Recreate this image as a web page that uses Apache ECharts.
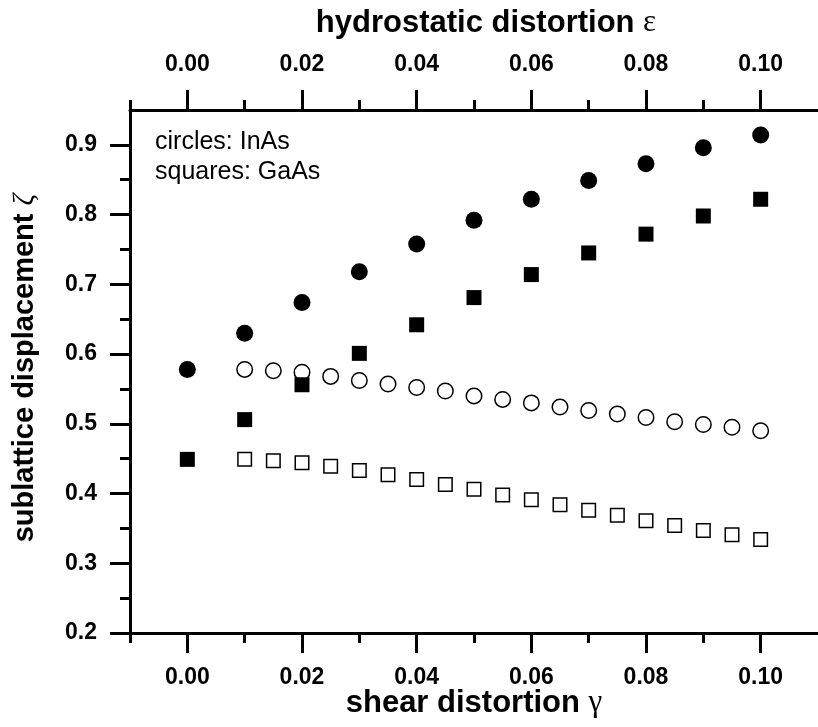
<!DOCTYPE html>
<html>
<head>
<meta charset="utf-8">
<script src="https://cdn.jsdelivr.net/npm/echarts@6/dist/echarts.min.js"></script>
<style>
  html, body { margin: 0; padding: 0; background: #fff; }
  #chart { width: 818px; height: 727px; }
</style>
</head>
<body>
<div id="chart"></div>
<script>
// Hydrostatic distortion (top axis) and the filled symbols
const epsValues = [0.00, 0.01, 0.02, 0.03, 0.04, 0.05, 0.06, 0.07, 0.08, 0.09, 0.10];
const inasHydro = [0.578, 0.630, 0.674, 0.718, 0.758, 0.792, 0.822, 0.849, 0.873, 0.896, 0.914];
const gaasHydro = [0.449, 0.506, 0.556, 0.601, 0.642, 0.681, 0.714, 0.745, 0.772, 0.798, 0.822];

// Shear distortion (bottom axis) and the open symbols
const gammaValues = [0.010, 0.015, 0.020, 0.025, 0.030, 0.035, 0.040, 0.045, 0.050, 0.055,
                     0.060, 0.065, 0.070, 0.075, 0.080, 0.085, 0.090, 0.095, 0.100];
const inasShear = [0.578, 0.576, 0.574, 0.568, 0.562, 0.557, 0.552, 0.547, 0.540, 0.535,
                   0.530, 0.524, 0.519, 0.514, 0.509, 0.503, 0.499, 0.495, 0.490];
const gaasShear = [0.449, 0.447, 0.444, 0.439, 0.433, 0.427, 0.420, 0.413, 0.406, 0.398,
                   0.391, 0.384, 0.376, 0.369, 0.361, 0.354, 0.347, 0.341, 0.334];

// Tick positions
const xMajorTicks = [0.00, 0.02, 0.04, 0.06, 0.08, 0.10];
const xMinorTicks = [-0.01, 0.01, 0.03, 0.05, 0.07, 0.09];
const yMajorTicks = [0.2, 0.3, 0.4, 0.5, 0.6, 0.7, 0.8, 0.9];
const yMinorTicks = [0.25, 0.35, 0.45, 0.55, 0.65, 0.75, 0.85];

const pairs = (xs, ys) => xs.map((x, i) => [x, ys[i]]);

const FONT = "'Liberation Sans', Arial, sans-serif";
const GREEK = "'Liberation Serif', 'DejaVu Serif', serif";
const X_MIN = -0.01, X_MAX = 0.11, Y_MIN = 0.2, Y_MAX = 0.95;

function xAxisDef(position, major) {
  return {
    type: 'value', position: position, min: X_MIN, max: X_MAX,
    axisLine: { show: major, onZero: false, lineStyle: { color: '#000', width: 3 } },
    axisTick: {
      show: true, inside: false, length: major ? 20 : 10,
      customValues: major ? xMajorTicks : xMinorTicks,
      lineStyle: { color: '#000', width: 3 }
    },
    axisLabel: {
      show: major, customValues: xMajorTicks, margin: position === 'top' ? 34 : 33,
      formatter: v => v.toFixed(2),
      color: '#000', fontFamily: FONT, fontWeight: 'bold', fontSize: 23
    },
    splitLine: { show: false }
  };
}

function yAxisDef(major) {
  return {
    type: 'value', position: 'left', min: Y_MIN, max: Y_MAX,
    axisLine: { show: major, onZero: false, lineStyle: { color: '#000', width: 3 } },
    axisTick: {
      show: true, inside: false, length: major ? 20 : 10,
      customValues: major ? yMajorTicks : yMinorTicks,
      lineStyle: { color: '#000', width: 3 }
    },
    axisLabel: {
      show: major, customValues: yMajorTicks, margin: 33,
      formatter: v => v.toFixed(1),
      color: '#000', fontFamily: FONT, fontWeight: 'bold', fontSize: 23
    },
    splitLine: { show: false }
  };
}

const titleRich = (size, greekItalic) => ({
  t: { fontFamily: FONT, fontWeight: 'bold', fontSize: size, fill: '#000' },
  g: { fontFamily: GREEK, fontWeight: 'normal', fontStyle: greekItalic ? 'italic' : 'normal',
       fontSize: size, fill: '#000' }
});

const chart = echarts.init(document.getElementById('chart'), null, { renderer: 'canvas' });

chart.setOption({
  animation: false,
  backgroundColor: '#fff',
  grid: { left: 130, top: 110, width: 694, height: 523, containLabel: false },
  xAxis: [
    xAxisDef('bottom', true),
    xAxisDef('bottom', false),
    xAxisDef('top', true),
    xAxisDef('top', false)
  ],
  yAxis: [yAxisDef(true), yAxisDef(false)],
  series: [
    {
      name: 'InAs shear', type: 'scatter', xAxisIndex: 0, yAxisIndex: 0,
      data: pairs(gammaValues, inasShear),
      symbol: 'circle', symbolSize: 15.5,
      itemStyle: { color: '#fff', borderColor: '#000', borderWidth: 1.5, opacity: 1 }
    },
    {
      name: 'GaAs shear', type: 'scatter', xAxisIndex: 0, yAxisIndex: 0,
      data: pairs(gammaValues, gaasShear),
      symbol: 'rect', symbolSize: 13.5,
      itemStyle: { color: '#fff', borderColor: '#000', borderWidth: 1.5, opacity: 1 }
    },
    {
      name: 'InAs hydrostatic', type: 'scatter', xAxisIndex: 2, yAxisIndex: 0,
      data: pairs(epsValues, inasHydro),
      symbol: 'circle', symbolSize: 17,
      itemStyle: { color: '#000', opacity: 1 }
    },
    {
      name: 'GaAs hydrostatic', type: 'scatter', xAxisIndex: 2, yAxisIndex: 0,
      data: pairs(epsValues, gaasHydro),
      symbol: 'rect', symbolSize: 15,
      itemStyle: { color: '#000', opacity: 1 }
    }
  ],
  graphic: [
    {
      type: 'text', left: 155, top: 127,
      style: {
        text: 'circles: InAs\nsquares: GaAs',
        font: "25px 'Liberation Sans', Arial, sans-serif",
        lineHeight: 30, fill: '#000'
      }
    },
    {
      type: 'text', x: 486, y: 23,
      style: {
        text: '{t|hydrostatic distortion }{g|ε}',
        align: 'center', verticalAlign: 'middle', rich: titleRich(31, false)
      }
    },
    {
      type: 'text', x: 474, y: 703,
      style: {
        text: '{t|shear distortion }{g|γ}',
        align: 'center', verticalAlign: 'middle', rich: titleRich(31, false)
      }
    },
    {
      type: 'text', x: 25, y: 368, rotation: Math.PI / 2,
      style: {
        text: '{t|sublattice displacement }{g|ζ}',
        align: 'center', verticalAlign: 'middle', rich: titleRich(29, true)
      }
    }
  ]
});
</script>
</body>
</html>
